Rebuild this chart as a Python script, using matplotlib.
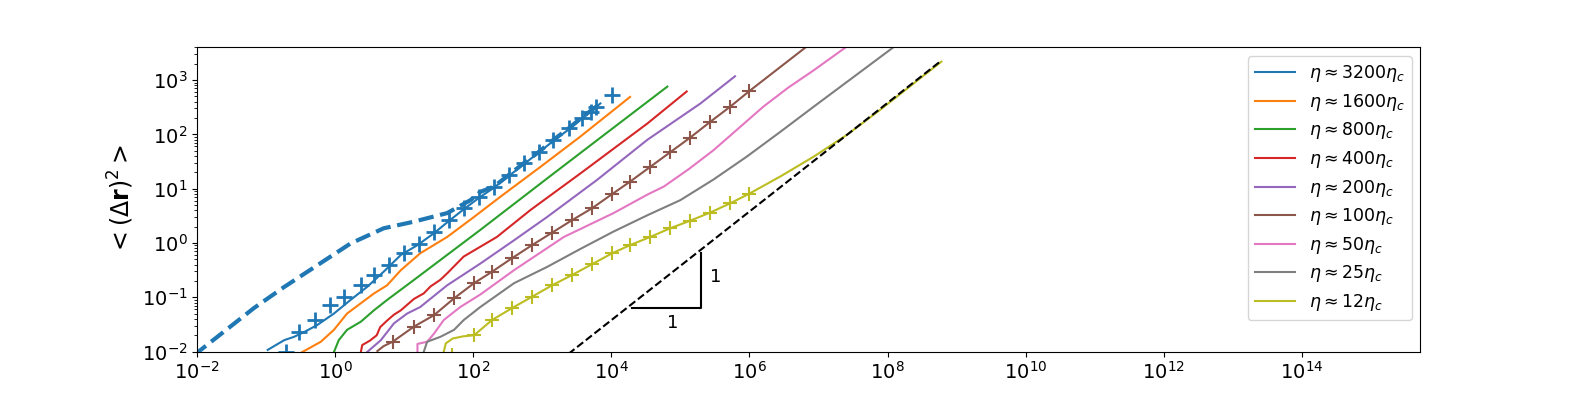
import numpy as np
import matplotlib.pyplot as plt

# values are log10 of time / MSD
blue_lx = [-0.98, -0.74, -0.60, -0.45, -0.26, -0.02, 0.22, 0.46, 0.70, 0.95, 1.19, 1.43, 1.64,
           1.86, 2.08, 2.30, 2.51, 2.73, 2.95, 3.16, 3.38, 3.57, 3.84]
blue_ly = [-1.97, -1.79, -1.73, -1.64, -1.51, -1.30, -1.05, -0.81, -0.53, -0.22, -0.04, 0.18, 0.40,
           0.62, 0.83, 1.02, 1.23, 1.45, 1.67, 1.88, 2.09, 2.29, 2.57]

blue_dash_lx = [-2.05, -1.52, -1.18, -0.74, -0.26, 0.22, 0.70, 1.13, 1.62, 1.96, 2.10, 2.30, 2.51,
                2.73, 2.95, 3.16, 3.38, 3.57, 3.84]
blue_dash_ly = [-2.07, -1.54, -1.20, -0.81, -0.41, -0.01, 0.27, 0.39, 0.55, 0.79, 0.94, 1.04, 1.25,
                1.47, 1.68, 1.90, 2.11, 2.31, 2.57]

blue_mk_lx = [-0.72, -0.53, -0.29, -0.07, 0.12, 0.37, 0.56, 0.78, 0.99, 1.21, 1.43, 1.64, 1.86,
              2.08, 2.30, 2.51, 2.73, 2.95, 3.16, 3.38, 3.57, 3.70, 3.77, 4.01]
blue_mk_ly = [-2.01, -1.64, -1.42, -1.14, -0.99, -0.78, -0.59, -0.41, -0.19, -0.02, 0.21, 0.42, 0.64,
              0.84, 1.04, 1.25, 1.47, 1.68, 1.90, 2.11, 2.31, 2.42, 2.51, 2.72]

orange_lx = [-0.48, -0.21, -0.02, 0.17, 0.37, 0.56, 0.75, 0.95, 1.23, 1.62, 2.01, 2.39, 2.97, 3.55, 4.27]
orange_ly = [-2.01, -1.82, -1.60, -1.30, -1.11, -0.93, -0.78, -0.50, -0.19, 0.11, 0.48, 0.85, 1.40, 1.96, 2.69]

green_lx = [-0.02, 0.05, 0.17, 0.37, 0.56, 0.75, 1.14, 1.62, 2.10, 2.59, 3.07, 3.79, 4.81]
green_ly = [-2.01, -1.79, -1.60, -1.45, -1.24, -1.05, -0.68, -0.22, 0.24, 0.72, 1.19, 1.89, 2.88]

red_lx = [0.37, 0.39, 0.50, 0.60, 0.65, 0.75, 0.85, 0.95, 1.04, 1.14, 1.28, 1.38, 1.52, 1.62, 1.86,
          2.34, 2.83, 3.55, 4.52, 5.09]
red_ly = [-2.01, -1.88, -1.80, -1.70, -1.55, -1.43, -1.32, -1.24, -1.14, -1.03, -0.93, -0.80, -0.68,
          -0.56, -0.25, 0.11, 0.61, 1.28, 2.20, 2.79]

purple_lx = [0.46, 0.66, 0.85, 1.04, 1.23, 1.62, 2.10, 2.59, 3.07, 3.79, 4.52, 5.29, 5.79]
purple_ly = [-2.01, -1.79, -1.48, -1.30, -1.18, -0.78, -0.38, 0.05, 0.48, 1.16, 1.90, 2.57, 3.07]

brown_mk_lx = [0.83, 1.14, 1.43, 1.72, 2.01, 2.27, 2.56, 2.85, 3.14, 3.43, 3.72, 4.01, 4.27, 4.56,
               4.85, 5.14, 5.43, 5.72, 6.00]
brown_mk_ly = [-1.82, -1.54, -1.33, -1.02, -0.74, -0.53, -0.28, -0.04, 0.19, 0.42, 0.64, 0.90, 1.13,
               1.40, 1.67, 1.94, 2.23, 2.51, 2.80]
brown_lx = [0.61, 0.70] + brown_mk_lx + [6.81]
brown_ly = [-1.99, -1.90] + brown_mk_ly + [3.60]

pink_lx = [1.19, 1.19, 1.33, 1.43, 1.57, 1.81, 2.10, 2.59, 3.31, 4.03, 4.52, 4.76, 5.12, 5.48, 5.84,
           6.20, 6.56, 6.93, 7.39]
pink_ly = [-2.01, -1.86, -1.82, -1.67, -1.42, -1.18, -0.95, -0.50, 0.11, 0.55, 0.89, 1.04, 1.36,
           1.71, 2.11, 2.51, 2.86, 3.18, 3.60]

gray_lx = [1.28, 1.33, 1.52, 1.72, 1.86, 2.10, 2.59, 3.07, 3.55, 4.03, 4.52, 5.00, 5.48, 5.96, 6.45,
           6.93, 7.50, 8.08]
gray_ly = [-2.01, -1.82, -1.73, -1.60, -1.42, -1.18, -0.74, -0.44, -0.11, 0.21, 0.51, 0.79, 1.17,
           1.59, 2.05, 2.51, 3.05, 3.60]

yellow_mk_lx = [1.69, 2.01, 2.27, 2.56, 2.85, 3.14, 3.43, 3.72, 4.01, 4.27, 4.56, 4.85, 5.14, 5.43,
                5.72, 6.00]
yellow_mk_ly = [-2.06, -1.70, -1.42, -1.20, -0.99, -0.78, -0.59, -0.39, -0.19, -0.04, 0.11, 0.27,
                0.41, 0.56, 0.73, 0.91]
yellow_lx = [1.57, 1.60, 1.70, 1.85] + yellow_mk_lx[1:] + [6.44, 6.93, 7.41, 7.89, 8.37, 8.78]
yellow_ly = [-2.01, -1.85, -1.76, -1.72] + yellow_mk_ly[1:] + [1.22, 1.59, 1.99, 2.45, 2.93, 3.34]

# slope-1 guide line and triangle
guide_x = [1e3, 6e8]
guide_y = [3.8e-3, 2.28e3]
tri_x = [2e4, 2e5, 2e5]
tri_y = [0.0625, 0.0625, 0.64]

labels = [r'$\eta \approx 3200\eta_c$', r'$\eta \approx 1600\eta_c$', r'$\eta \approx 800\eta_c$',
          r'$\eta \approx 400\eta_c$', r'$\eta \approx 200\eta_c$', r'$\eta \approx 100\eta_c$',
          r'$\eta \approx 50\eta_c$', r'$\eta \approx 25\eta_c$', r'$\eta \approx 12\eta_c$']


def p(v):
    return 10 ** np.array(v)


fig, ax = plt.subplots(figsize=(15.78, 3.95), dpi=100)

series = [(blue_lx, blue_ly), (orange_lx, orange_ly), (green_lx, green_ly), (red_lx, red_ly),
          (purple_lx, purple_ly), (brown_lx, brown_ly), (pink_lx, pink_ly), (gray_lx, gray_ly),
          (yellow_lx, yellow_ly)]
handles = []
for i, (lx, ly) in enumerate(series):
    h, = ax.plot(p(lx), p(ly), color=f'C{i}', lw=1.5)
    handles.append(h)

ax.plot(p(blue_dash_lx), p(blue_dash_ly), color='C0', lw=3, ls='--')
ax.plot(p(blue_mk_lx), p(blue_mk_ly), ls='none', marker='+', ms=11, mew=2, color='C0')
ax.plot(p(brown_mk_lx), p(brown_mk_ly), ls='none', marker='+', ms=10, mew=1.5, color='C5')
ax.plot(p(yellow_mk_lx), p(yellow_mk_ly), ls='none', marker='+', ms=10, mew=1.5, color='C8')

ax.plot(guide_x, guide_y, 'k--', lw=1.5)
ax.plot(tri_x, tri_y, 'k-', lw=1.5)
ax.text(7.6e4, 0.034, '1', fontsize=13, ha='center', va='center')
ax.text(3.2e5, 0.235, '1', fontsize=13, ha='center', va='center')

ax.set_xscale('log')
ax.set_yscale('log')
ax.set_xlim(1e-2, 5.2e15)
ax.set_ylim(1e-2, 4e3)
ax.tick_params(labelsize=14)
ax.set_ylabel(r'$<(\Delta\mathbf{r})^2>$', fontsize=17)

ax.legend(handles, labels, loc='upper right', fontsize=12.5, handlelength=2.3, labelspacing=0.44)

fig.savefig('out.png', dpi=100)
